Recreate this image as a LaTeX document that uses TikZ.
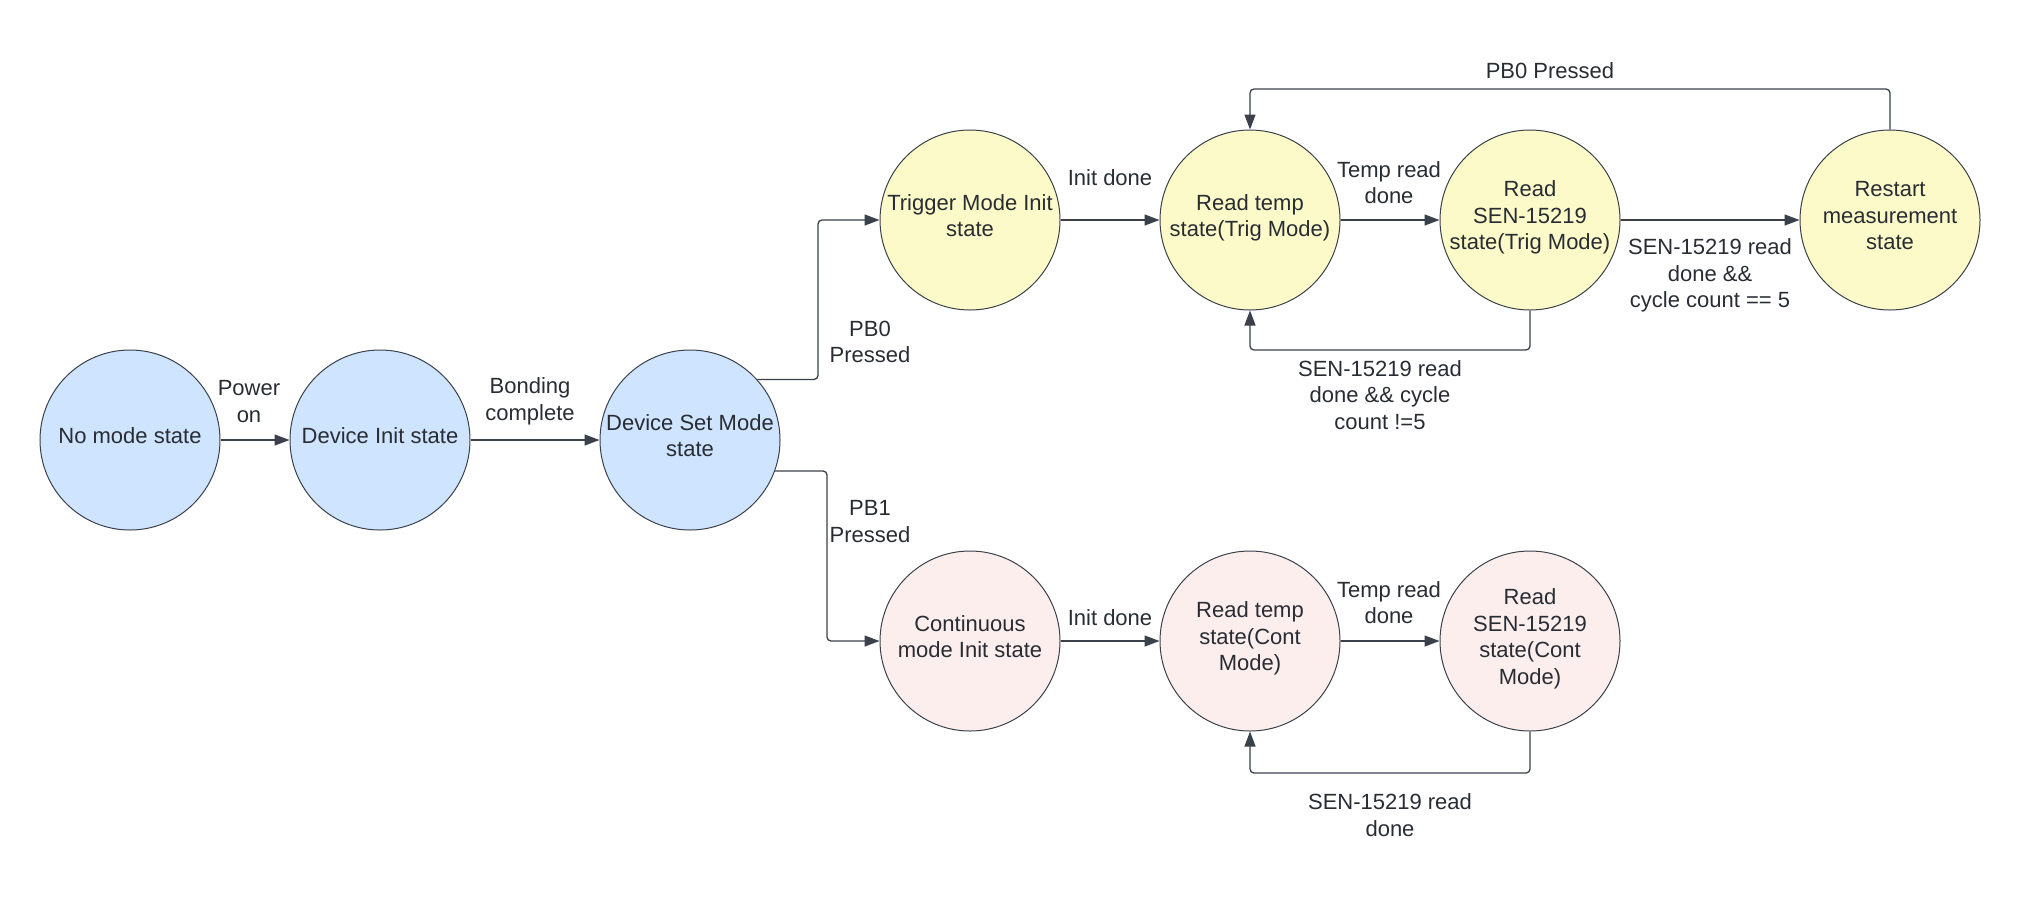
\documentclass[tikz,border=0pt]{standalone}
\usepackage{fontspec}
\setmainfont{Liberation Sans}
\usetikzlibrary{arrows.meta}

\definecolor{inkc}{HTML}{282C33}
\definecolor{linec}{HTML}{3A414A}
\definecolor{bluef}{HTML}{CFE4FF}
\definecolor{yellowf}{HTML}{FCFAC8}
\definecolor{pinkf}{HTML}{FDEEEE}

% centred text block for a state, set slightly above the middle of the circle
\newcommand{\stxt}[1]{\raisebox{2pt}[\height][\depth]{\begin{tabular}{@{}c@{}}#1\end{tabular}}}

\begin{document}
\begin{tikzpicture}[x=1pt,y=-1pt,
  every node/.style={text=inkc, font=\fontsize{22}{26.5}\selectfont},
  state/.style={circle, draw=linec, line width=1pt, minimum size=180pt,
    inner sep=0pt},
  bluestate/.style={state, fill=bluef},
  yellowstate/.style={state, fill=yellowf},
  pinkstate/.style={state, fill=pinkf},
  lbl/.style={inner sep=0pt, align=center},
  arr/.style={draw=linec, line width=1.3pt, rounded corners=4pt,
    -{Triangle[length=15pt,width=11pt]}}
]
\useasboundingbox (0,0) rectangle (2020,903);

% start-up chain
\node[bluestate] (nm)  at (130,440) {\stxt{No mode state}};
\node[bluestate] (di)  at (380,440) {\stxt{Device Init state}};
\node[bluestate] (dsm) at (690,440) {\stxt{Device Set Mode\\state}};

% trigger mode branch
\node[yellowstate] (tmi) at (970,220)  {\stxt{Trigger Mode Init\\state}};
\node[yellowstate] (rtt) at (1250,220) {\stxt{Read temp\\state(Trig Mode)}};
\node[yellowstate] (rsn) at (1530,220) {\stxt{Read\\SEN-15219\\state(Trig Mode)}};
\node[yellowstate] (rst) at (1890,220) {\stxt{Restart\\measurement\\state}};

% continuous mode branch
\node[pinkstate] (cmi) at (970,641)  {\stxt{Continuous\\mode Init state}};
\node[pinkstate] (rtc) at (1250,641) {\stxt{Read temp\\state(Cont\\Mode)}};
\node[pinkstate] (rsc) at (1530,641) {\stxt{Read\\SEN-15219\\state(Cont\\Mode)}};

% bend points of the routed connectors
\coordinate (kup)  at (818,220);
\coordinate (kdn)  at (827,641);
\coordinate (ktop) at (1570,89);
\coordinate (ktl)  at (1390,350);
\coordinate (kbl)  at (1390,773);

% connectors
\draw[arr] (nm) -- (di);
\draw[arr] (di) -- (dsm);
\draw[arr] (dsm.42.7) -| (kup) -- (tmi.west);
\draw[arr] (dsm.-20.8) -| (kdn) -- (cmi.west);
\draw[arr] (tmi) -- (rtt);
\draw[arr] (rtt) -- (rsn);
\draw[arr] (rsn) -- (rst);
\draw[arr] (rst.north) |- (ktop) -| (rtt.north);
\draw[arr] (rsn.south) |- (ktl) -| (rtt.south);
\draw[arr] (cmi) -- (rtc);
\draw[arr] (rtc) -- (rsc);
\draw[arr] (rsc.south) |- (kbl) -| (rtc.south);

% transition labels
\node[lbl] (lpow)  at (249,401.5)  {Power\\on};
\node[lbl] (lbond) at (530,401.5)  {Bonding\\complete};
\node[lbl] (lpb0)  at (870,342)    {PB0\\Pressed};
\node[lbl] (lpb1)  at (870,521.5)  {PB1\\Pressed};
\node[lbl] (lit)   at (1110,178)   {Init done};
\node[lbl] (ltt)   at (1389,182.5) {Temp read\\done};
\node[lbl] (lrst)  at (1550,71)    {PB0 Pressed};
\node[lbl] (lcyc)  at (1380,395)   {SEN-15219 read\\done \&\& cycle\\count !=5};
\node[lbl] (lfive) at (1710,275.5) {SEN-15219 read\\done \&\&\\cycle count == 5};
\node[lbl] (lic)   at (1110,618)   {Init done};
\node[lbl] (ltc)   at (1389,602.5) {Temp read\\done};
\node[lbl] (lsc)   at (1390,815)   {SEN-15219 read\\done};
\end{tikzpicture}
\end{document}
